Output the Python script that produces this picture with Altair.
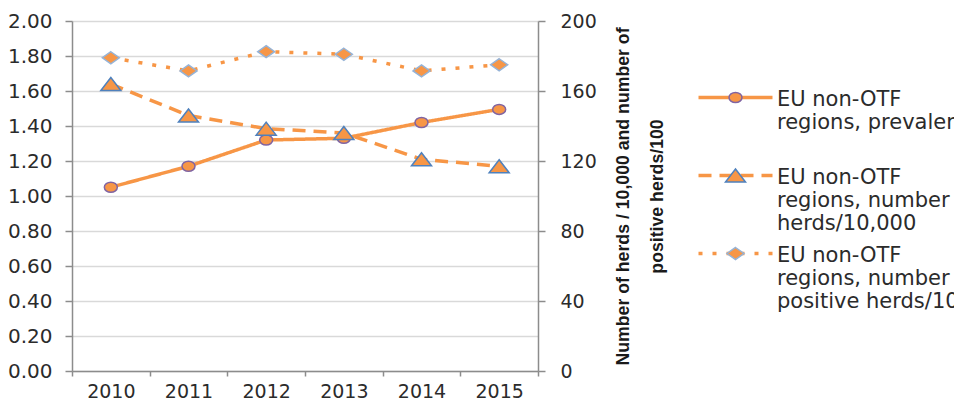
import altair as alt
import pandas as pd

# Years on the category axis
years = ["2010", "2011", "2012", "2013", "2014", "2015"]

# Left axis: prevalence (%)
prevalence = [1.05, 1.17, 1.32, 1.33, 1.42, 1.495]
# Right axis: number of herds / 10,000 and number of positive herds / 100
herds_per_10000 = [164, 146, 138.5, 136, 121, 117]
positive_herds_per_100 = [179, 171.5, 182.5, 181, 171.5, 175]

# Series names; "|" marks the line breaks used in the legend
series_names = [
    "EU non-OTF|regions, prevalence| ",
    "EU non-OTF|regions, number of|herds/10,000",
    "EU non-OTF|regions, number of|positive herds/100",
]
right_axis_title = ["Number of  herds / 10,000 and number of", "positive herds/100"]

ORANGE = "#F79646"
GRID = "#D9D9D9"
AXIS = "#8C8C8C"
TEXT = "#2B2B2B"
marker_strokes = ["#8064A2", "#4F81BD", "#95B3D7"]
dash_patterns = [[1, 0], [13, 8], [4, 10]]
# Wide ellipse, triangle and diamond markers (drawn at symbol size 100)
marker_paths = [
    "M-1.3,0A1.3,1 0 1,0 1.3,0A1.3,1 0 1,0 -1.3,0Z",
    "M0,-1.3L2,1.3L-2,1.3Z",
    "M0,-1.2L1.7,0L0,1.2L-1.7,0Z",
]
# Legend line sample, 74 px long at symbol size 100
legend_line_path = "M-7.4,0L7.4,0"

# Each legend gets its own domain prefix so the three legends stay separate
dash_keys = ["d:" + n for n in series_names]
marker_keys = ["m:" + n for n in series_names]

rows = []
for i, values in enumerate([prevalence, herds_per_10000, positive_herds_per_100]):
    for year, v in zip(years, values):
        rows.append({
            "year": year, "value": v, "label": series_names[i],
            "series": dash_keys[i], "marker": marker_keys[i],
        })
df = pd.DataFrame(rows)

label_style = dict(
    title=None,
    orient="none",
    labelFont="DejaVu Sans",
    labelFontSize=21,
    labelColor=TEXT,
    labelLimit=800,
    labelBaseline="top",
    labelOffset=0,
    padding=0,
    rowPadding=-1,
    symbolSize=100,
)
# Blank three-line labels keep the symbol legends' rows as tall as the text legend's
blank_labels = "[' ', ' ', ' ']"

# Visible legend text (its own symbols hidden)
legend_text = alt.Legend(
    legendX=684, legendY=57, labelExpr="split(datum.label, '|')",
    symbolOpacity=0, **label_style,
)
# Line samples
legend_lines = alt.Legend(
    legendX=653, legendY=66, labelExpr=blank_labels, labelOpacity=0,
    symbolType=legend_line_path, symbolStrokeWidth=3.5,
    symbolStrokeColor=ORANGE, symbolFillColor="transparent", **label_style,
)
# Markers drawn over the middle of the line samples
legend_markers = alt.Legend(
    legendX=653, legendY=66, labelExpr=blank_labels, labelOpacity=0,
    symbolFillColor=ORANGE, symbolStrokeWidth=1.5, **label_style,
)

x_enc = alt.X(
    "year:O",
    title=None,
    scale=alt.Scale(type="band", paddingInner=0, paddingOuter=0),
    axis=alt.Axis(
        labelAngle=0, labelFont="DejaVu Sans", labelFontSize=19, labelColor=TEXT,
        tickBand="extent", tickSize=5, tickColor=AXIS, tickWidth=1.5,
        domainColor=AXIS, domainWidth=1.5, labelPadding=6, grid=False,
    ),
)

dash_enc = alt.StrokeDash(
    "series:N", scale=alt.Scale(domain=dash_keys, range=dash_patterns),
    legend=legend_lines,
)
color_enc = alt.Color(
    "label:N", scale=alt.Scale(domain=series_names, range=[ORANGE] * 3),
    legend=legend_text,
)
shape_enc = alt.Shape(
    "marker:N", scale=alt.Scale(domain=marker_keys, range=marker_paths),
    legend=legend_markers,
)
stroke_enc = alt.Stroke(
    "marker:N", scale=alt.Scale(domain=marker_keys, range=marker_strokes),
    legend=legend_markers,
)

left_y = alt.Y(
    "value:Q",
    title=None,
    scale=alt.Scale(domain=[0, 2], nice=False, zero=True),
    axis=alt.Axis(
        orient="left", values=[round(0.2 * i, 1) for i in range(11)], format=".2f",
        labelFont="DejaVu Sans", labelFontSize=20, labelColor=TEXT,
        tickSize=7, tickColor=AXIS, tickWidth=1.5, labelPadding=13,
        domainColor=AXIS, domainWidth=1.5,
        grid=True, gridColor=GRID, gridWidth=1.5,
    ),
)
right_y = alt.Y(
    "value:Q",
    title=right_axis_title,
    scale=alt.Scale(domain=[0, 200], nice=False, zero=True),
    axis=alt.Axis(
        orient="right", values=[0, 40, 80, 120, 160, 200],
        labelFont="DejaVu Sans", labelFontSize=19, labelColor=TEXT,
        tickSize=7, tickColor=AXIS, tickWidth=1.5, labelPadding=15,
        domainColor=AXIS, domainWidth=1.5, grid=False,
        titleAngle=270, titleBaseline="middle", titleAlign="center",
        titleX=85, titleY=175, titleFont="Liberation Sans",
        titleFontWeight="bold", titleFontSize=17.7, titleColor="#1A1A1A",
        titleLineHeight=34,
    ),
)

base = alt.Chart(df)
line_props = dict(strokeWidth=3.5, strokeJoin="round")
point_props = dict(filled=True, fill=ORANGE, size=100, strokeWidth=1.5, opacity=1)

left_data = base.transform_filter(alt.datum.label == series_names[0])
right_data = base.transform_filter(alt.datum.label != series_names[0])

left = alt.layer(
    left_data.mark_line(**line_props).encode(x=x_enc, y=left_y, strokeDash=dash_enc, color=color_enc),
    left_data.mark_point(**point_props).encode(x=x_enc, y=left_y, shape=shape_enc, stroke=stroke_enc),
)
right = alt.layer(
    right_data.mark_line(**line_props).encode(
        x=x_enc, y=right_y, strokeDash=dash_enc, color=color_enc, detail="series:N"
    ),
    right_data.mark_point(**point_props).encode(x=x_enc, y=right_y, shape=shape_enc, stroke=stroke_enc),
)

chart = (
    alt.layer(left, right)
    .resolve_scale(y="independent")
    .properties(
        width=466,
        height=350,
        autosize=alt.AutoSizeParams(type="none"),
        padding={"left": 72, "top": 21, "right": 416, "bottom": 27},
        background="white",
    )
    .configure_view(stroke=None)
)

chart.save("out.html", embed_options={"renderer": "svg", "actions": False})
